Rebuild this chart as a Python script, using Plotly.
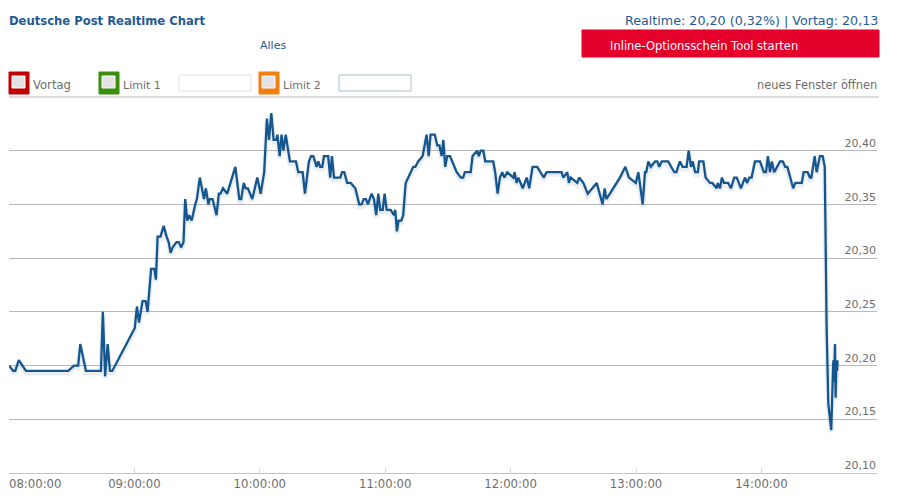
import plotly.graph_objects as go

# minutes after 08:00
minutes = [
    0.1, 2.0, 3.0, 4.7, 8.1, 28.3, 31.1, 33.1, 34.1, 36.8, 44.0, 44.9, 46.0, 47.2, 48.3, 49.4,
    60.2, 61.2, 62.2, 63.9, 65.4, 66.3, 68.0, 69.5, 70.3, 71.1, 72.5, 74.0, 75.4, 76.4, 77.3, 78.3,
    80.2, 81.2, 82.4, 83.5, 84.3, 85.3, 86.2, 87.4, 89.1, 89.9, 91.3, 92.6, 93.3, 94.2, 95.4, 96.1,
    97.4, 99.3, 100.4, 101.2, 102.4, 104.4, 108.3, 110.2, 111.1, 112.3, 113.2, 114.3, 116.4, 118.8,
    120.4, 122.1, 123.4, 124.4, 125.5, 126.6, 127.9, 128.4, 129.5, 130.4, 131.3, 132.4, 134.4, 137.3,
    138.4, 140.5, 141.6, 143.5, 144.5, 145.6, 147.2, 148.0, 148.9, 149.9, 150.7, 152.7, 153.7, 154.5,
    155.5, 158.5, 159.4, 160.4, 161.8, 163.5, 165.7, 167.6, 168.7, 169.7, 170.8, 171.7, 173.5, 174.6,
    175.7, 176.7, 177.6, 178.8, 179.7, 180.7, 182.6, 184.2, 184.8, 185.6, 186.4, 187.7, 188.6, 189.8,
    191.0, 192.3, 193.4, 194.4, 195.8, 197.9, 199.0, 199.8, 200.8, 201.7, 203.7, 204.9, 205.9, 207.0,
    207.8, 208.7, 209.7, 211.0, 214.2, 216.2, 217.3, 218.1, 220.9, 221.8, 224.0, 224.8, 225.7, 226.9,
    227.9, 231.7, 232.6, 233.8, 234.9, 236.0, 237.0, 238.4, 241.3, 241.9, 242.9, 243.7, 245.8, 247.7,
    248.9, 250.5, 252.7, 255.9, 257.2, 264.4, 265.2, 267.1, 267.9, 268.7, 271.9, 272.8, 274.8, 276.9,
    281.2, 284.0, 285.0, 285.8, 287.5, 289.1, 292.3, 294.9, 296.6, 299.9, 301.1, 303.2, 304.3, 304.9,
    305.9, 307.1, 309.1, 310.2, 311.1, 312.3, 315.4, 318.3, 319.3, 321.0, 322.3, 324.2, 325.2, 326.3,
    327.1, 328.3, 329.6, 330.2, 332.2, 333.3, 335.4, 336.5, 338.6, 339.1, 340.2, 341.1, 342.1, 344.1,
    345.4, 347.0, 348.2, 350.2, 352.1, 353.2, 354.2, 355.3, 356.9, 359.3, 361.2, 362.2, 363.1, 364.1,
    365.0, 366.1, 368.9, 370.2, 371.4, 372.4, 375.2, 376.2, 379.3, 380.2, 382.1, 383.2, 383.9, 385.5,
    386.4, 388.0, 389.3, 390.3, 391.2, 392.0, 393.4, 394.4, 394.8, 395.2, 395.5, 395.9, 396.2, 396.4,
]
prices = [
    20.20, 20.195, 20.195, 20.205, 20.195, 20.195, 20.20, 20.20, 20.22, 20.195, 20.195, 20.25, 20.19, 20.22, 20.195, 20.195,
    20.235, 20.255, 20.24, 20.26, 20.26, 20.25, 20.29, 20.29, 20.28, 20.32, 20.32, 20.33, 20.32, 20.315, 20.305, 20.31,
    20.315, 20.315, 20.31, 20.315, 20.355, 20.335, 20.34, 20.335, 20.35, 20.355, 20.375, 20.36, 20.355, 20.365, 20.35, 20.355,
    20.355, 20.34, 20.36, 20.36, 20.365, 20.36, 20.385, 20.355, 20.355, 20.37, 20.365, 20.365, 20.355, 20.375,
    20.36, 20.38, 20.43, 20.41, 20.435, 20.41, 20.41, 20.415, 20.395, 20.415, 20.40, 20.415, 20.39, 20.39,
    20.38, 20.38, 20.36, 20.39, 20.395, 20.395, 20.385, 20.39, 20.385, 20.385, 20.395, 20.395, 20.375, 20.395,
    20.375, 20.375, 20.38, 20.38, 20.37, 20.37, 20.365, 20.35, 20.35, 20.355, 20.355, 20.35, 20.36, 20.355,
    20.34, 20.36, 20.345, 20.345, 20.36, 20.345, 20.345, 20.34, 20.345, 20.325, 20.335, 20.335, 20.34, 20.37,
    20.375, 20.38, 20.385, 20.385, 20.39, 20.395, 20.405, 20.415, 20.395, 20.415, 20.415, 20.405, 20.405, 20.395,
    20.41, 20.385, 20.395, 20.395, 20.38, 20.375, 20.375, 20.38, 20.38, 20.395, 20.40, 20.395, 20.40, 20.40,
    20.39, 20.39, 20.38, 20.36, 20.375, 20.38, 20.375, 20.38, 20.375, 20.38, 20.37, 20.375, 20.365, 20.375,
    20.365, 20.385, 20.385, 20.375, 20.38, 20.38, 20.375, 20.38, 20.37, 20.375, 20.37, 20.375, 20.37, 20.36,
    20.37, 20.35, 20.365, 20.355, 20.36, 20.365, 20.375, 20.385, 20.375, 20.37, 20.38, 20.35, 20.38, 20.38,
    20.39, 20.385, 20.39, 20.39, 20.385, 20.39, 20.39, 20.38, 20.38, 20.39, 20.385, 20.385, 20.40, 20.385,
    20.39, 20.38, 20.38, 20.39, 20.39, 20.375, 20.37, 20.37, 20.365, 20.37, 20.365, 20.375, 20.37, 20.37,
    20.365, 20.375, 20.375, 20.365, 20.375, 20.37, 20.375, 20.375, 20.39, 20.39, 20.38, 20.38, 20.395, 20.38,
    20.39, 20.38, 20.39, 20.39, 20.385, 20.385, 20.365, 20.37, 20.37, 20.38, 20.38, 20.375, 20.375, 20.395,
    20.38, 20.395, 20.395, 20.385, 20.235, 20.165, 20.14, 20.205, 20.185, 20.22, 20.17, 20.205, 20.195, 20.205,
]
hour_ticks = [60, 120, 180, 240, 300, 360]
hour_labels = ["09:00:00", "10:00:00", "11:00:00", "12:00:00", "13:00:00", "14:00:00"]
price_ticks = [20.10, 20.15, 20.20, 20.25, 20.30, 20.35, 20.40]
price_labels = ["20,10", "20,15", "20,20", "20,25", "20,30", "20,35", "20,40"]

W, H = 909, 498
LEFT, RIGHT, TOP, BOTTOM = 9, 877, 97, 473
FONT = "DejaVu Sans"
BLUE = "#1f5a96"
GREY = "#6e6e6e"


# pixel position of the page -> paper coordinates
def px(x):
    return (x - LEFT) / (RIGHT - LEFT)


def py(y):
    return (BOTTOM - y) / (BOTTOM - TOP)


def box(x0, y0, x1, y1, fill, line=None):
    return dict(type="rect", xref="paper", yref="paper", x0=px(x0), x1=px(x1), y0=py(y0), y1=py(y1),
                fillcolor=fill, line=dict(color=line or fill, width=1), layer="above")


def label(x, y, text, color=GREY, size=11, anchor="left", bold=False):
    shift = {"left": -2, "right": 2, "center": 0}[anchor]
    return dict(xref="paper", yref="paper", x=px(x), y=py(y), text=f"<b>{text}</b>" if bold else text,
                showarrow=False, xanchor=anchor, yanchor="middle", xshift=shift, yshift=-1,
                font=dict(family=FONT, size=size, color=color))


fig = go.Figure()
# soft shadow under the line
fig.add_trace(go.Scatter(x=minutes, y=[p - 0.002 for p in prices], mode="lines",
                         line=dict(color="rgba(120,140,165,0.16)", width=5), hoverinfo="skip"))
fig.add_trace(go.Scatter(x=minutes, y=prices, mode="lines", line=dict(color="#15568f", width=2.3)))

shapes = [
    box(582, 30, 879, 57, "#e4002b"),
    box(9, 72, 29, 94, "#c00000"),
    box(99, 72, 119, 94, "#3a8f0e"),
    box(259, 72, 279, 94, "#f47f10"),
    box(179, 75, 251, 91, "#ffffff", "#dfe3e8"),
    box(339, 75, 411, 91, "#ffffff", "#a9c0d0"),
    # top rule above the plot
    dict(type="line", xref="paper", yref="paper", x0=0, x1=px(879), y0=py(97), y1=py(97),
         line=dict(color="#b8b8b8", width=1)),
]
for x in [12, 102, 262]:
    shapes.append(box(x, 76, x + 13, 88, "#e2e2e2", "#ffffff"))

annotations = [
    label(9, 20, "Deutsche Post Realtime Chart", BLUE, 11.6, bold=True),
    label(878, 20, "Realtime: 20,20 (0,32%) | Vortag: 20,13", BLUE, 12.7, "right"),
    label(273, 45, "Alles", BLUE, 11, "center"),
    label(610, 45, "Inline-Optionsschein Tool starten", "#ffffff", 11.5),
    label(33, 84, "Vortag", size=11.6),
    label(123, 84, "Limit 1"),
    label(283, 84, "Limit 2"),
    label(877, 84, "neues Fenster öffnen", size=11.4, anchor="right"),
    label(9, 483, "08:00:00", size=11.7),
]

fig.update_layout(
    width=W, height=H, autosize=False, showlegend=False,
    margin=dict(l=LEFT, r=W - RIGHT, t=TOP, b=H - BOTTOM, pad=0),
    paper_bgcolor="white", plot_bgcolor="white",
    shapes=shapes, annotations=annotations,
    xaxis=dict(range=[0, 415.3], tickvals=hour_ticks, ticktext=hour_labels, showgrid=False, automargin=False,
               zeroline=False, showline=True, linecolor="#b9c7d2", linewidth=1,
               ticks="inside", ticklen=5, tickcolor="#d5dde3",
               tickfont=dict(family=FONT, size=11.7, color=GREY)),
    yaxis=dict(range=[20.10, 20.45], side="right", tickvals=price_ticks, ticktext=price_labels, automargin=False,
               ticklabelposition="inside top", ticklabelstandoff=-2, ticks="",
               showgrid=True, gridcolor="#b8b8b8", gridwidth=1, zeroline=False, showline=False,
               tickfont=dict(family=FONT, size=11, color=GREY)),
)

fig.write_html("out.html", config=dict(displayModeBar=False), post_script="document.body.style.margin='0';")
